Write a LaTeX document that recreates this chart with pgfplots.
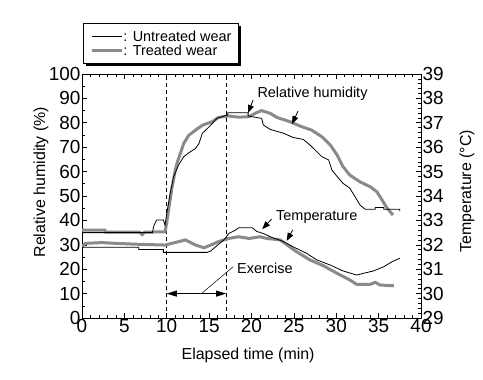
\documentclass[border=0pt]{standalone}
\usepackage{fontspec}
\setmainfont{Liberation Sans}
\usepackage{pgfplots}
\pgfplotsset{compat=1.18}
\usetikzlibrary{backgrounds,arrows.meta}
\definecolor{trgray}{RGB}{138,138,138}
\begin{document}
\begin{tikzpicture}
\pgfplotsset{
  every axis/.append style={
    scale only axis, width=339bp, height=244bp,
    xmin=0, xmax=40,
    major tick length=5bp, minor tick length=3bp,
    tick style={black, line width=0.6bp},
    axis line style={line width=0.8bp},
    /pgf/number format/assume math mode=true,
    tick label style={font=\fontsize{19}{19}\selectfont},
  }
}
\begin{axis}[
  name=main,
  ymin=0, ymax=100,
  xtick={0,5,...,40}, minor x tick num=4,
  ytick={0,10,...,100}, minor y tick num=1,
  xtick pos=both, ytick pos=left,
  xticklabel style={yshift=2bp},
  yticklabel style={xshift=2bp},
  xlabel={Elapsed time (min)},
  every axis x label/.style={at={(rel axis cs:0.49,0)}, anchor=center, yshift=-37bp, font=\fontsize{16}{16}\selectfont},
  ylabel={Relative humidity (\%)},
  every axis y label/.style={at={(rel axis cs:0,0.557)}, xshift=-41bp, rotate=90, anchor=center, font=\fontsize{16}{16}\selectfont},
  legend style={name=leg, at={(rel axis cs:0,1)}, anchor=south west, xshift=1bp, yshift=10bp,
    font=\fontsize{14.5}{14.5}\selectfont, draw=black, line width=0.8bp, fill=white,
    inner xsep=7bp, inner ysep=5bp, row sep=-2bp,
    nodes={inner xsep=0pt}, cells={anchor=west}},
  legend image code/.code={\draw[#1] (0bp,0bp) -- (30bp,0bp);},
  clip=false,
]
% legend entries
\addlegendimage{black, line width=0.8bp}
\addlegendentry{: Untreated wear}
\addlegendimage{trgray, line width=3bp}
\addlegendentry{: Treated wear}
% dashed lines
\draw[dashed, line width=0.7bp, dash pattern=on 4bp off 3bp] (axis cs:10,0) -- (axis cs:10,100);
\draw[dashed, line width=0.7bp, dash pattern=on 4bp off 3bp] (axis cs:17,0) -- (axis cs:17,100);
% Treated RH
\addplot[trgray, line width=3bp] coordinates {
(0,36)(2.7,36)(2.8,35.2)(6.8,35.2)(7.1,34.2)(7.4,35.2)(9.8,35.3)(10.0,39)(10.2,44)(10.4,48.4)(10.6,53)(10.8,56.6)(11.0,60.5)(11.2,63.3)(11.6,67.4)(12,71.5)(12.6,74.9)(13.4,77)(14.2,79)(15.4,80.5)(16.1,82.2)(17.3,82.8)(18.5,82.3)(19.7,82.5)(20.5,84)(21.2,85)(22.2,83.9)(23,82.2)(24.5,80.5)(25.7,78.7)(27.1,77)(28.3,74.3)(29.3,70.9)(30.1,66.8)(30.8,62)(31.6,58.6)(32.8,55.8)(34,53.8)(34.8,51.7)(35.4,48.4)(36,45)(36.7,42.2)
};
% Untreated RH
\addplot[black, line width=0.8bp] coordinates {
(0,35)(8.3,35)(8.5,38)(8.8,40.2)(9.6,40.2)(9.8,38)(10,42.9)(10.4,51)(10.8,57.9)(11.4,62.7)(12,66.1)(12.6,67.7)(13.4,69.5)(13.8,71.5)(14.2,75.7)(14.8,77.7)(15.4,79.8)(15.9,81.8)(16.5,82.5)(17.2,83.2)(17.2,84.1)(19.6,84.1)(19.6,82.8)(21.2,81.8)(21.4,79.1)(22.2,77.3)(23.8,75.7)(24.9,74)(26.1,73.2)(26.9,70.9)(27.7,68.2)(28.3,66.1)(29.1,64.8)(29.5,60.6)(30.1,58)(30.8,55.2)(31.6,53.2)(32.2,49.8)(32.8,46.3)(33.4,44.6)(34.6,44.6)(34.6,45.3)(35.6,45.3)(35.6,44.6)(37.5,44.6)(37.5,43.8)
};
% annotations
\node[anchor=center, font=\fontsize{14.5}{14.5}\selectfont] at (axis cs:27.2,91.8) {Relative humidity};
\node[anchor=center, font=\fontsize{14.5}{14.5}\selectfont] at (axis cs:27.7,41.4) {Temperature};
\node[anchor=west, font=\fontsize{14.5}{14.5}\selectfont] at (axis cs:17.9,20.4) {Exercise};
\draw[-{Triangle[length=8bp,width=6bp]}, line width=0.8bp] (axis cs:20.18,89.3) -- (axis cs:19.59,84.0);
\draw[-{Triangle[length=8bp,width=6bp]}, line width=0.8bp] (axis cs:25.49,84.8) -- (axis cs:24.78,79.5);
\draw[-{Triangle[length=8bp,width=6bp]}, line width=0.8bp] (axis cs:22.38,40.6) -- (axis cs:21.27,36.4);
\draw[-{Triangle[length=8bp,width=6bp]}, line width=0.8bp] (axis cs:24.86,36.1) -- (axis cs:24.15,31.6);
\draw[{Triangle[length=10bp,width=6bp]}-{Triangle[length=10bp,width=6bp]}, line width=0.8bp] (axis cs:10,10) -- (axis cs:17,10);
\draw[line width=0.5bp] (axis cs:14.1,10) -- (axis cs:17.8,20.9);
\end{axis}
\begin{axis}[
  ymin=29, ymax=39,
  axis x line=none,
  axis y line*=right,
  ytick={29,30,...,39}, minor y tick num=4,
  yticklabel style={xshift=-2bp},
  ylabel={Temperature (°C)},
  every axis y label/.style={at={(rel axis cs:1,0.52)}, xshift=46bp, rotate=90, anchor=center, font=\fontsize{16}{16}\selectfont},
]
% Treated T
\addplot[trgray, line width=3bp] coordinates {
(0,31.92)(0.4,32.06)(2.4,32.09)(3.9,32.06)(6.7,32.02)(9.8,31.99)(11.4,32.13)(12.2,32.2)(13.4,31.99)(14.4,31.88)(15.2,31.99)(16.1,32.13)(17.3,32.26)(18.5,32.33)(19.7,32.26)(21,32.33)(21.8,32.26)(23.4,32.2)(24.2,31.99)(25.3,31.72)(26.9,31.38)(28.5,31.14)(30.1,30.83)(31.6,30.56)(32.4,30.38)(34,30.38)(34.6,30.46)(35.2,30.35)(36.8,30.32)
};
% Untreated T
\addplot[black, line width=0.8bp] coordinates {
(0,31.9)(6.7,31.9)(6.7,31.81)(9.6,31.81)(9.6,31.69)(14.8,31.69)(15.2,31.75)(15.7,31.9)(16.5,32.13)(16.9,32.26)(17.3,32.46)(18.1,32.6)(18.5,32.7)(20.1,32.7)(20.6,32.55)(21.5,32.45)(22.2,32.33)(23.8,32.13)(24.9,31.92)(26.5,31.65)(27.7,31.38)(29.3,31.17)(30.8,30.93)(32.4,30.76)(33.2,30.83)(34.4,30.93)(35.6,31.1)(36.6,31.31)(37.5,31.45)
};
\end{axis}
\begin{pgfonlayer}{background}
\fill[black] ([xshift=2.5bp,yshift=-2.5bp]leg.south west) rectangle ([xshift=2.5bp,yshift=-2.5bp]leg.north east);
\end{pgfonlayer}
\path (main.south west) ++(-82bp,-62bp) coordinate (bbsw);
\path (main.north east) ++(62bp,74bp) coordinate (bbne);
\path (bbsw) rectangle (bbne);
\end{tikzpicture}
\end{document}
